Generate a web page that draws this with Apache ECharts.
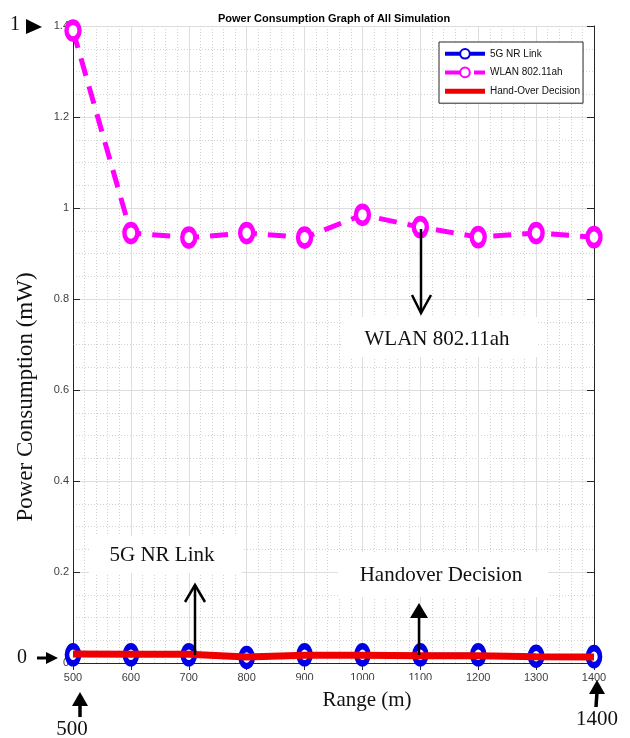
<!DOCTYPE html>
<html>
<head>
<meta charset="utf-8">
<script src="https://cdn.jsdelivr.net/npm/echarts@6/dist/echarts.min.js"></script>
<style>
html,body{margin:0;padding:0;background:#fff;}
#chart{width:630px;height:738px;}
</style>
</head>
<body>
<div id="chart"></div>
<script>
// ---- data ----
const ranges = [500, 600, 700, 800, 900, 1000, 1100, 1200, 1300, 1400];
const nr5g = [0.018, 0.018, 0.018, 0.012, 0.018, 0.018, 0.018, 0.018, 0.015, 0.014];
const wlan = [1.39, 0.945, 0.935, 0.945, 0.935, 0.985, 0.958, 0.936, 0.945, 0.936];
const handover = [0.02, 0.019, 0.019, 0.013, 0.017, 0.017, 0.016, 0.016, 0.014, 0.013];
const seriesNames = ['5G NR Link', 'WLAN 802.11ah', 'Hand-Over Decision'];
const titleText = 'Power Consumption Graph of All Simulation';
const xName = 'Range (m)';
const yName = 'Power Consumption (mW)';

const pairs = (vals) => ranges.map((x, i) => [x, vals[i]]);

const sans = '"Liberation Sans Narrow", "Liberation Sans", Arial, sans-serif';
const serif = '"Liberation Serif", "Times New Roman", serif';
const axisColor = '#262626';
const tickLbl = {color: '#404040', fontSize: 11, fontFamily: sans, formatter: (v) => String(v)};

const chart = echarts.init(document.getElementById('chart'), null, {renderer: 'canvas'});

function whiteBox(x, y, w, h) {
  return {type: 'rect', shape: {x: x, y: y, width: w, height: h}, style: {fill: '#fff'}, z: 50};
}
function label(text, x, y, size) {
  return {type: 'text', x: x, y: y, z: 60,
    style: {text: text, fill: '#111', font: size + 'px ' + serif, textAlign: 'center', textVerticalAlign: 'middle'}};
}
function shaft(x1, y1, x2, y2, w) {
  return {type: 'line', z: 60, shape: {x1: x1, y1: y1, x2: x2, y2: y2}, style: {stroke: '#000', lineWidth: w}};
}
function tri(points) {
  return {type: 'polygon', z: 60, shape: {points: points}, style: {fill: '#000'}};
}
function chevron(points) {
  return {type: 'polyline', z: 60, shape: {points: points}, style: {stroke: '#000', lineWidth: 2.5, fill: null}};
}

const barIcon = 'path://M0,0 L0.01,0 L0.01,0.01 Z M0,3.5 L40,3.5 L40,8.5 L0,8.5 Z M39.99,12 L40,12 L40,11.99 Z';

const option = {
  backgroundColor: '#fff',
  animation: false,
  title: {
    text: titleText, left: 213, top: 8,
    textStyle: {fontSize: 11, fontWeight: 'bold', color: '#000', fontFamily: '"Liberation Sans", Arial, sans-serif'}
  },
  legend: {
    data: [{name: seriesNames[0]}, {name: seriesNames[1]}, {name: seriesNames[2], icon: barIcon}],
    orient: 'vertical',
    left: 439, top: 42,
    padding: [6, 3, 6, 4],
    itemWidth: 40, itemHeight: 12, itemGap: 7,
    backgroundColor: '#fff',
    borderColor: axisColor, borderWidth: 1,
    lineStyle: {width: 4},
    textStyle: {fontSize: 10, color: '#111', fontFamily: sans}
  },
  grid: {left: 73, right: 36, top: 26, bottom: 75, containLabel: false},
  xAxis: [{
    type: 'value', min: 500, max: 1400, interval: 100,
    axisLine: {show: true, lineStyle: {color: axisColor, width: 1}},
    axisTick: {show: true, inside: true, length: 7, lineStyle: {color: axisColor}},
    axisLabel: Object.assign({margin: 9}, tickLbl),
    splitLine: {show: true, lineStyle: {color: '#dedede', width: 1}},
    minorTick: {show: false, splitNumber: 5},
    minorSplitLine: {show: true, lineStyle: {color: '#d2d2d2', type: [1, 2], width: 1}}
  }, {
    type: 'value', min: 500, max: 1400, interval: 100, position: 'top',
    axisLine: {show: true, lineStyle: {color: axisColor, width: 1}},
    axisTick: {show: true, inside: true, length: 7, lineStyle: {color: axisColor}},
    axisLabel: {show: false}, splitLine: {show: false}
  }],
  yAxis: [{
    type: 'value', min: 0, max: 1.4, interval: 0.2,
    axisLine: {show: true, lineStyle: {color: axisColor, width: 1}},
    axisTick: {show: true, inside: true, length: 7, lineStyle: {color: axisColor}},
    axisLabel: Object.assign({margin: 4}, tickLbl),
    splitLine: {show: true, lineStyle: {color: '#dedede', width: 1}},
    minorTick: {show: false, splitNumber: 4},
    minorSplitLine: {show: true, lineStyle: {color: '#d2d2d2', type: [1, 2], width: 1}}
  }, {
    type: 'value', min: 0, max: 1.4, interval: 0.2, position: 'right',
    axisLine: {show: true, lineStyle: {color: axisColor, width: 1}},
    axisTick: {show: true, inside: true, length: 7, lineStyle: {color: axisColor}},
    axisLabel: {show: false}, splitLine: {show: false}
  }],
  series: [{
    name: seriesNames[0], type: 'line', data: pairs(nr5g),
    symbol: 'circle', symbolSize: [12, 17],
    lineStyle: {color: '#0000e6', width: 4},
    itemStyle: {color: '#ffffff', borderColor: '#0000e6', borderWidth: 5.5},
    z: 3
  }, {
    name: seriesNames[1], type: 'line', data: pairs(wlan),
    symbol: 'circle', symbolSize: [13, 17],
    lineStyle: {color: '#ff00ff', width: 5, type: [18, 11]},
    itemStyle: {color: '#ffffff', borderColor: '#ff00ff', borderWidth: 5},
    z: 4
  }, {
    name: seriesNames[2], type: 'line', data: pairs(handover),
    symbol: 'none', showSymbol: false,
    lineStyle: {color: '#ee0000', width: 7},
    itemStyle: {color: '#ee0000'},
    z: 5
  }],
  graphic: [
    // axis titles
    whiteBox(293, 680, 142, 38), label(xName, 367, 700, 21),
    {type: 'text', x: 26, y: 397, rotation: Math.PI / 2, z: 60,
      style: {text: yName, fill: '#111', font: '23px ' + serif, textAlign: 'center', textVerticalAlign: 'middle'}},
    // annotation boxes and texts
    whiteBox(343, 317, 195, 40), label('WLAN 802.11ah', 437, 339, 21),
    whiteBox(89, 536, 153, 37), label('5G NR Link', 162, 555, 21),
    whiteBox(338, 552, 210, 45), label('Handover Decision', 441, 575, 21),
    // WLAN arrow (down)
    shaft(421, 229, 421, 312, 2.5), chevron([[412, 295], [421, 313], [431, 295]]),
    // 5G arrow (up)
    shaft(195, 655, 195, 585, 2.5), chevron([[185, 602], [195, 585], [205, 602]]),
    // Handover arrow (up)
    shaft(419, 655, 419, 615, 2.5), tri([[410, 618], [419, 603], [428, 618]]),
    // outside markers
    label('1', 15, 25, 20), tri([[26, 19], [26, 34], [42, 27]]),
    label('0', 22, 658, 20), shaft(37, 658, 48, 658, 3), tri([[46, 652], [58, 658], [46, 664]]),
    shaft(80, 717, 80, 702, 3.5), tri([[72, 706], [80, 692], [88, 706]]), label('500', 72, 729, 21),
    shaft(596, 707, 597, 692, 3.5), tri([[589, 694], [597, 680], [605, 694]]), label('1400', 597, 719, 21)
  ]
};
chart.setOption(option);
</script>
</body>
</html>
